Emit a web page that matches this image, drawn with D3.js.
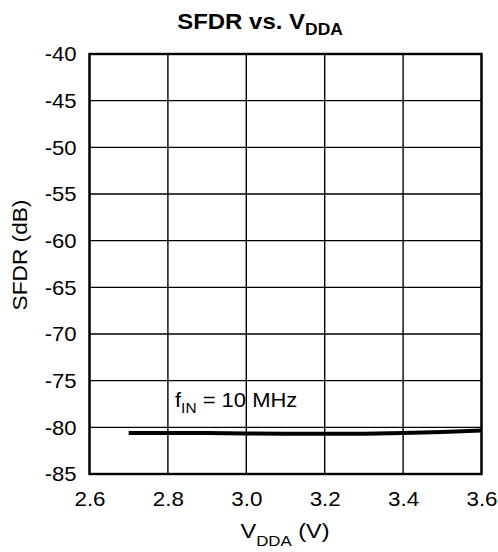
<!DOCTYPE html>
<html><head><meta charset="utf-8">
<script src="https://cdn.jsdelivr.net/npm/d3@7"></script>
<style>body{margin:0;background:#fff}svg{display:block}text{font-family:"Liberation Sans",Arial,sans-serif;fill:#000}</style>
</head><body><svg id="c" width="498" height="552"></svg>
<script>
const vdda = [2.7, 2.8, 2.9, 3.0, 3.1, 3.2, 3.3, 3.4, 3.5, 3.6];
const sfdr = [-80.6, -80.6, -80.62, -80.65, -80.68, -80.7, -80.68, -80.62, -80.5, -80.35];
const xTicks = [2.6, 2.8, 3.0, 3.2, 3.4, 3.6];
const yTicks = [-40, -45, -50, -55, -60, -65, -70, -75, -80, -85];

const SX = 1.12;
const svg = d3.select("#c");
const m = {l: 89.5, r: 481.5, t: 54, b: 474};
const x = d3.scaleLinear().domain([2.6, 3.6]).range([m.l, m.r]);
const y = d3.scaleLinear().domain([-85, -40]).range([m.b, m.t]);

// grid
const g = svg.append("g");
g.selectAll(".vx").data(xTicks).join("line")
  .attr("x1", d => x(d)).attr("x2", d => x(d)).attr("y1", m.t).attr("y2", m.b)
  .attr("stroke", "#000").attr("stroke-width", 1.4);
g.selectAll(".hy").data(yTicks).join("line")
  .attr("y1", d => y(d)).attr("y2", d => y(d)).attr("x1", m.l).attr("x2", m.r)
  .attr("stroke", "#000").attr("stroke-width", 1.4);
svg.append("rect").attr("x", m.l).attr("y", m.t).attr("width", m.r - m.l).attr("height", m.b - m.t)
  .attr("fill", "none").attr("stroke", "#000").attr("stroke-width", 2.4);

// axes labels via d3 axes
const ax = svg.append("g").attr("transform", `translate(0,${m.b})`)
  .call(d3.axisBottom(x).tickValues(xTicks).tickFormat(d3.format(".1f")).tickSize(0).tickPadding(18));
ax.select(".domain").remove();
ax.selectAll("text").attr("font-size", 20).attr("font-family", "Liberation Sans, Arial, sans-serif")
  .attr("fill", "#000").attr("transform", `scale(${SX},1)`);
const ay = svg.append("g").attr("transform", `translate(${m.l},0)`)
  .call(d3.axisLeft(y).tickValues(yTicks).tickFormat(d => d).tickSize(0).tickPadding(13));
ay.select(".domain").remove();
ay.selectAll("text").attr("font-size", 21).attr("font-family", "Liberation Sans, Arial, sans-serif")
  .attr("fill", "#000").attr("x", -13 / 1.05).attr("transform", `scale(1.05,1)`);

// line
svg.append("path").datum(vdda.map((v, i) => [v, sfdr[i]]))
  .attr("d", d3.line().x(d => x(d[0])).y(d => y(d[1])))
  .attr("fill", "none").attr("stroke", "#000").attr("stroke-width", 4);

// annotation
const an = svg.append("text").attr("transform", `translate(175,407) scale(1.1,1)`).attr("font-size", 20);
an.append("tspan").text("f");
an.append("tspan").text("IN").attr("font-size", 14).attr("dy", 6);
an.append("tspan").text(" = 10 MHz").attr("dy", -6);

// title
const t = svg.append("text").attr("transform", `translate(260,28.5) scale(1.09,1)`).attr("text-anchor", "middle")
  .attr("font-size", 22).attr("font-weight", "bold");
t.append("tspan").text("SFDR vs. V");
t.append("tspan").text("DDA").attr("font-size", 16).attr("dy", 6);

// x title
const xt = svg.append("text").attr("transform", `translate(285,538) scale(1.12,1)`).attr("text-anchor", "middle").attr("font-size", 21);
xt.append("tspan").text("V");
xt.append("tspan").text("DDA").attr("font-size", 15).attr("dy", 8);
xt.append("tspan").text(" (V)").attr("dy", -8);

// y title
svg.append("text").attr("transform", "translate(27,255) rotate(-90) scale(1.08,1)").attr("text-anchor", "middle")
  .attr("font-size", 21).text("SFDR (dB)");
</script></body></html>
